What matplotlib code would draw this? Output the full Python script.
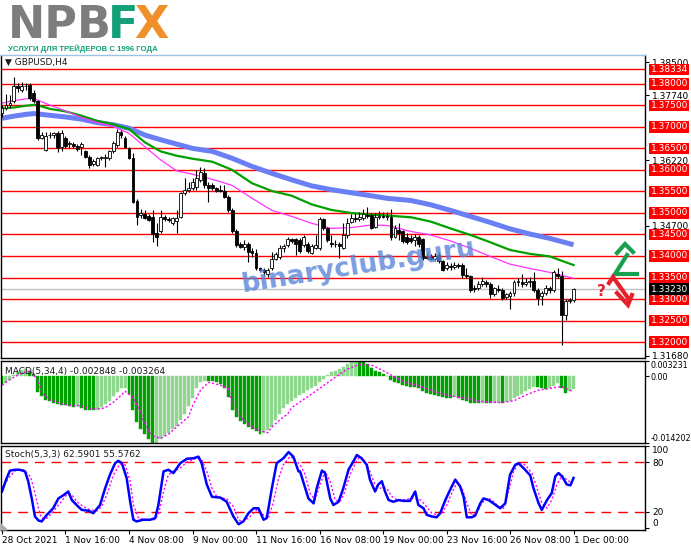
import matplotlib.pyplot as plt
from matplotlib.lines import Line2D
from matplotlib.patches import Polygon
import numpy as np

# GBPUSD H4, 28 Oct 2021 - 1 Dec 2021 (bar index 0..144)
opens = [1.3732, 1.3743, 1.3751, 1.3759, 1.3794, 1.3786, 1.3794, 1.3798, 1.3778, 1.3759,
         1.3675, 1.3646, 1.3680, 1.3681, 1.3685, 1.3654, 1.3674, 1.3660, 1.3660, 1.3656,
         1.3654, 1.3643, 1.3631, 1.3613, 1.3611, 1.3627, 1.3627, 1.3627, 1.3643, 1.3658,
         1.3688, 1.3674, 1.3650, 1.3627, 1.3528, 1.3495, 1.3497, 1.3494, 1.3491, 1.3453,
         1.3457, 1.3491, 1.3486, 1.3476, 1.3481, 1.3491, 1.3546, 1.3553, 1.3557, 1.3561,
         1.3577, 1.3592, 1.3565, 1.3564, 1.3557, 1.3553, 1.3551, 1.3538, 1.3507, 1.3458,
         1.3427, 1.3421, 1.3429, 1.3411, 1.3408, 1.3371, 1.3367, 1.3359, 1.3371, 1.3394,
         1.3398, 1.3418, 1.3425, 1.3439, 1.3439, 1.3437, 1.3425, 1.3429, 1.3408, 1.3419,
         1.3418, 1.3486, 1.3464, 1.3431, 1.3429, 1.3427, 1.3419, 1.3449, 1.3480, 1.3489,
         1.3486, 1.3489, 1.3495, 1.3495, 1.3468, 1.3491, 1.3493, 1.3491, 1.3491, 1.3445,
         1.3461, 1.3457, 1.3445, 1.3442, 1.3437, 1.3445, 1.3439, 1.3398, 1.3398, 1.3394,
         1.3402, 1.3388, 1.3371, 1.3377, 1.3374, 1.3379, 1.3379, 1.3356, 1.3354, 1.3325,
         1.3325, 1.3336, 1.3340, 1.3335, 1.3311, 1.3323, 1.3321, 1.3305, 1.3307, 1.3313,
         1.3339, 1.3340, 1.3334, 1.3339, 1.3342, 1.3321, 1.3307, 1.3313, 1.3325, 1.3321,
         1.3359, 1.3354, 1.3264, 1.3295, 1.3297]
highs = [1.3751, 1.3776, 1.3774, 1.3817, 1.3802, 1.3805, 1.3802, 1.3802, 1.3786, 1.3763,
         1.3689, 1.3689, 1.3688, 1.3689, 1.3691, 1.3693, 1.3678, 1.3667, 1.3664, 1.3660,
         1.3666, 1.3646, 1.3635, 1.3625, 1.3631, 1.3633, 1.3636, 1.3646, 1.3667, 1.3695,
         1.3693, 1.3678, 1.3654, 1.3639, 1.3532, 1.3509, 1.3507, 1.3497, 1.3507, 1.3476,
         1.3507, 1.3495, 1.3491, 1.3491, 1.3507, 1.3549, 1.3581, 1.3573, 1.3582, 1.3600,
         1.3607, 1.3604, 1.3573, 1.3569, 1.3561, 1.3565, 1.3564, 1.3542, 1.3511, 1.3463,
         1.3433, 1.3437, 1.3433, 1.3418, 1.3416, 1.3375, 1.3371, 1.3371, 1.3410, 1.3410,
         1.3425, 1.3429, 1.3445, 1.3442, 1.3442, 1.3441, 1.3449, 1.3433, 1.3429, 1.3449,
         1.3491, 1.3489, 1.3468, 1.3449, 1.3437, 1.3433, 1.3476, 1.3488, 1.3497, 1.3499,
         1.3503, 1.3509, 1.3515, 1.3499, 1.3499, 1.3505, 1.3502, 1.3503, 1.3509, 1.3473,
         1.3476, 1.3461, 1.3453, 1.3449, 1.3450, 1.3449, 1.3442, 1.3406, 1.3404, 1.3406,
         1.3410, 1.3390, 1.3387, 1.3383, 1.3385, 1.3383, 1.3383, 1.3371, 1.3356, 1.3332,
         1.3342, 1.3352, 1.3344, 1.3339, 1.3328, 1.3332, 1.3325, 1.3315, 1.3318, 1.3344,
         1.3348, 1.3359, 1.3348, 1.3352, 1.3363, 1.3325, 1.3318, 1.3332, 1.3331, 1.3367,
         1.3371, 1.3365, 1.3301, 1.3303, 1.3325]
lows = [1.3724, 1.3740, 1.3743, 1.3755, 1.3782, 1.3781, 1.3786, 1.3763, 1.3755, 1.3670,
        1.3672, 1.3643, 1.3674, 1.3674, 1.3641, 1.3643, 1.3652, 1.3650, 1.3650, 1.3643,
        1.3635, 1.3627, 1.3604, 1.3610, 1.3608, 1.3623, 1.3607, 1.3623, 1.3639, 1.3654,
        1.3675, 1.3650, 1.3625, 1.3522, 1.3472, 1.3489, 1.3486, 1.3482, 1.3433, 1.3424,
        1.3453, 1.3482, 1.3480, 1.3472, 1.3453, 1.3488, 1.3542, 1.3549, 1.3553, 1.3553,
        1.3573, 1.3557, 1.3526, 1.3553, 1.3548, 1.3548, 1.3534, 1.3503, 1.3453, 1.3421,
        1.3418, 1.3414, 1.3387, 1.3398, 1.3367, 1.3363, 1.3354, 1.3352, 1.3367, 1.3390,
        1.3394, 1.3410, 1.3421, 1.3431, 1.3402, 1.3408, 1.3421, 1.3406, 1.3404, 1.3416,
        1.3414, 1.3460, 1.3433, 1.3421, 1.3421, 1.3396, 1.3416, 1.3441, 1.3476, 1.3480,
        1.3482, 1.3484, 1.3489, 1.3463, 1.3464, 1.3486, 1.3488, 1.3484, 1.3437, 1.3441,
        1.3437, 1.3431, 1.3429, 1.3431, 1.3424, 1.3421, 1.3390, 1.3393, 1.3390, 1.3388,
        1.3383, 1.3365, 1.3367, 1.3367, 1.3369, 1.3371, 1.3349, 1.3349, 1.3317, 1.3317,
        1.3321, 1.3331, 1.3328, 1.3303, 1.3307, 1.3317, 1.3297, 1.3300, 1.3278, 1.3307,
        1.3331, 1.3328, 1.3331, 1.3328, 1.3317, 1.3287, 1.3287, 1.3309, 1.3315, 1.3317,
        1.3349, 1.3193, 1.3251, 1.3290, 1.3294]
closes = [1.3743, 1.3751, 1.3755, 1.3794, 1.3790, 1.3796, 1.3796, 1.3767, 1.3759, 1.3674,
          1.3681, 1.3678, 1.3681, 1.3685, 1.3652, 1.3685, 1.3656, 1.3662, 1.3656, 1.3649,
          1.3660, 1.3631, 1.3611, 1.3621, 1.3628, 1.3629, 1.3631, 1.3643, 1.3662, 1.3688,
          1.3681, 1.3654, 1.3627, 1.3526, 1.3491, 1.3499, 1.3489, 1.3484, 1.3450, 1.3445,
          1.3491, 1.3486, 1.3484, 1.3488, 1.3488, 1.3546, 1.3553, 1.3559, 1.3573, 1.3581,
          1.3596, 1.3565, 1.3557, 1.3559, 1.3551, 1.3551, 1.3538, 1.3507, 1.3457, 1.3425,
          1.3421, 1.3429, 1.3410, 1.3406, 1.3371, 1.3367, 1.3363, 1.3367, 1.3394, 1.3404,
          1.3419, 1.3424, 1.3439, 1.3436, 1.3429, 1.3411, 1.3445, 1.3411, 1.3424, 1.3425,
          1.3486, 1.3464, 1.3437, 1.3427, 1.3427, 1.3424, 1.3449, 1.3476, 1.3489, 1.3486,
          1.3491, 1.3497, 1.3494, 1.3466, 1.3491, 1.3493, 1.3491, 1.3494, 1.3445, 1.3464,
          1.3453, 1.3435, 1.3433, 1.3435, 1.3445, 1.3427, 1.3396, 1.3396, 1.3394, 1.3401,
          1.3388, 1.3367, 1.3380, 1.3374, 1.3379, 1.3377, 1.3356, 1.3354, 1.3321, 1.3323,
          1.3336, 1.3342, 1.3334, 1.3311, 1.3325, 1.3321, 1.3303, 1.3311, 1.3315, 1.3339,
          1.3342, 1.3334, 1.3339, 1.3342, 1.3321, 1.3303, 1.3313, 1.3326, 1.3321, 1.3362,
          1.3354, 1.3264, 1.3295, 1.3297, 1.3323]

# moving averages (bar index, price)
ma_bars = [0, 3, 6, 8, 9, 12, 16, 20, 24, 28, 32, 36, 40, 44, 48, 53, 58, 63, 68,
           73, 78, 83, 88, 93, 97, 103, 108, 113, 118, 123, 128, 133, 138, 144]
ma_fast = [1.3755, 1.3761, 1.3765, 1.3767, 1.3762, 1.3751, 1.3737, 1.3722, 1.3710,
           1.3701, 1.3685, 1.3654, 1.3623, 1.3598, 1.3590, 1.3578, 1.3564, 1.3534,
           1.3506, 1.3492, 1.3476, 1.3464, 1.3466, 1.3472, 1.3471, 1.3457, 1.3449,
           1.3435, 1.3418, 1.3399, 1.3381, 1.3371, 1.3362, 1.3348]
ma_mid = [1.3743, 1.3745, 1.3749, 1.3751, 1.3750, 1.3742, 1.3736, 1.3726, 1.3714,
          1.3706, 1.3695, 1.3664, 1.3643, 1.3633, 1.3626, 1.3619, 1.3600, 1.3569,
          1.3551, 1.3540, 1.3520, 1.3507, 1.3500, 1.3496, 1.3494, 1.3490, 1.3480,
          1.3464, 1.3449, 1.3432, 1.3414, 1.3405, 1.3399, 1.3379]
ma_slow = [1.3720, 1.3725, 1.3729, 1.3731, 1.3730, 1.3727, 1.3723, 1.3718, 1.3710,
           1.3705, 1.3697, 1.3681, 1.3670, 1.3660, 1.3650, 1.3643, 1.3627, 1.3608,
           1.3592, 1.3577, 1.3563, 1.3554, 1.3547, 1.3540, 1.3534, 1.3529, 1.3519,
           1.3506, 1.3492, 1.3478, 1.3463, 1.3451, 1.3441, 1.3426]

macd_hist = [-0.0018, -0.0015, -0.0008, 0.0002, 0.0010, 0.0014, 0.0016, 0.0012, 0.0004, -0.0034,
             -0.0043, -0.0050, -0.0053, -0.0056, -0.0060, -0.0062, -0.0062, -0.0063, -0.0065, -0.0063,
             -0.0067, -0.0071, -0.0072, -0.0072, -0.0071, -0.0065, -0.0060, -0.0052, -0.0043, -0.0034,
             -0.0026, -0.0025, -0.0037, -0.0071, -0.0097, -0.0112, -0.0123, -0.0134, -0.0142, -0.0141,
             -0.0134, -0.0127, -0.0120, -0.0112, -0.0105, -0.0093, -0.0080, -0.0063, -0.0047, -0.0026,
             -0.0013, -0.0010, -0.0010, -0.0011, -0.0013, -0.0017, -0.0026, -0.0045, -0.0071, -0.0086,
             -0.0096, -0.0102, -0.0107, -0.0112, -0.0116, -0.0122, -0.0120, -0.0114, -0.0107, -0.0093,
             -0.0080, -0.0067, -0.0060, -0.0052, -0.0047, -0.0040, -0.0035, -0.0030, -0.0025, -0.0020,
             -0.0012, -0.0005, 0.0003, 0.0008, 0.0012, 0.0016, 0.0020, 0.0026, 0.0030, 0.0032,
             0.0032, 0.0030, 0.0025, 0.0018, 0.0012, 0.0008, 0.0004, 0.0000, -0.0008, -0.0012,
             -0.0015, -0.0018, -0.0020, -0.0022, -0.0022, -0.0025, -0.0032, -0.0036, -0.0038, -0.0040,
             -0.0042, -0.0045, -0.0046, -0.0046, -0.0045, -0.0046, -0.0050, -0.0052, -0.0056, -0.0058,
             -0.0058, -0.0056, -0.0056, -0.0058, -0.0057, -0.0056, -0.0057, -0.0055, -0.0052, -0.0047,
             -0.0042, -0.0037, -0.0032, -0.0028, -0.0024, -0.0024, -0.0026, -0.0027, -0.0025, -0.0020,
             -0.0015, -0.0025, -0.0035, -0.0032, -0.0028]
sig_bars = [0, 2, 5, 7, 9, 10, 12, 15, 17, 20, 22, 25, 26, 28, 30, 31, 33, 35, 36, 38, 40,
            42, 44, 47, 48, 50, 52, 53, 55, 57, 58, 60, 62, 63, 65, 67, 68, 70, 72, 73, 75,
            78, 81, 84, 87, 90, 93, 96, 99, 102, 105, 108, 111, 114, 117, 120, 123, 126,
            129, 132, 135, 138, 141, 144]
sig_vals = [-0.0019, -0.0007, 0.0007, 0.0011, -0.0007, -0.0034, -0.0050, -0.0058, -0.0062,
            -0.0063, -0.0069, -0.0069, -0.0067, -0.0056, -0.0041, -0.0032, -0.0045, -0.0078,
            -0.0105, -0.0127, -0.0132, -0.0123, -0.0108, -0.0086, -0.0063, -0.0030, -0.0013,
            -0.0015, -0.0019, -0.0026, -0.0056, -0.0086, -0.0101, -0.0108, -0.0116, -0.0120,
            -0.0108, -0.0093, -0.0080, -0.0067, -0.0055, -0.0038, -0.0020, -0.0002, 0.0015,
            0.0025, 0.0024, 0.0012, -0.0002, -0.0014, -0.0020, -0.0030, -0.0038, -0.0043,
            -0.0047, -0.0053, -0.0055, -0.0056, -0.0052, -0.0040, -0.0030, -0.0026, -0.0022,
            -0.0033]

st_bars = [0, 0.3, 1.2, 2.0, 3.3, 4.5, 5.8, 6.6, 7.5, 8.3, 9.2, 10.0, 11.3, 12.9, 14.2, 15.5,
           16.7, 17.6, 18.8, 20.1, 21.8, 23.0, 24.7, 26.0, 27.2, 28.5, 29.3, 30.2, 31.4, 32.3,
           33.1, 33.9, 35.6, 37.3, 38.6, 39.4, 40.7, 41.9, 43.2, 44.9, 46.6, 48.2, 49.5, 50.3,
           51.6, 52.9, 55.0, 56.6, 58.3, 59.6, 60.8, 62.1, 63.4, 64.6, 65.9, 66.7, 68.0, 69.2,
           70.9, 72.2, 73.4, 74.7, 75.1, 76.4, 77.2, 78.5, 79.3, 80.6, 81.4, 82.7, 83.5, 84.8,
           86.0, 87.3, 88.5, 89.4, 90.6, 91.9, 92.7, 94.0, 94.8, 95.7, 96.5, 97.4, 98.6, 99.9,
           101.1, 102.8, 104.1, 104.9, 106.2, 107.0, 108.3, 109.5, 110.4, 111.7, 112.9, 114.2,
           115.4, 116.3, 117.1, 118.4, 119.2, 120.5, 121.3, 122.6, 123.8, 125.5, 126.8, 128.0,
           129.3, 130.1, 131.4, 133.1, 133.9, 135.2, 136.0, 137.3, 138.5, 139.4, 140.2, 141.1,
           142.3, 143.2, 144.0]
st_main = [44.5, 48.6, 61, 70, 71, 71, 69, 57, 36, 14, 9, 8, 16, 24, 36, 40,
           44.5, 34, 28, 22, 21, 18, 28, 48.6, 65, 79, 82, 79, 61, 32,
           10, 8, 10, 10, 12, 28, 69, 71, 67, 79, 84.5, 85, 87, 79,
           53, 38, 37, 32, 14, 4.5, 8, 18, 24, 24, 10, 12, 48.6, 79,
           85, 92.6, 87, 69, 69, 48.6, 36, 30, 48.6, 70, 67, 36, 28, 32,
           48.6, 71, 81, 89, 85, 77, 59, 44.5, 53, 57, 44.5, 34, 32, 34,
           33, 33, 44.5, 28, 24, 16, 14, 13, 18, 34, 46.5, 59,
           51, 38, 13, 13, 15, 30, 36, 34, 30, 24, 30, 65,
           77, 79, 73, 64, 48.6, 30, 22, 34, 42.5, 63, 67, 63,
           53, 52, 61]
sts_bars = [0, 2.0, 3.3, 5.4, 7.1, 7.9, 9.2, 10.0, 11.3, 12.9, 14.6, 16.3, 17.6, 18.8, 20.5,
            22.2, 23.9, 25.1, 26.4, 28.1, 29.7, 31.0, 32.3, 33.1, 34.4, 36.5, 38.2, 39.4, 40.7,
            41.9, 43.2, 44.9, 46.6, 49.1, 50.3, 51.6, 52.9, 54.1, 56.6, 58.3, 59.6, 60.8, 62.5,
            64.2, 65.9, 67.1, 68.4, 69.7, 70.9, 72.6, 74.3, 75.1, 76.4, 77.6, 78.9, 80.1, 81.4,
            82.7, 83.9, 85.2, 86.4, 87.7, 89.0, 90.2, 91.5, 92.7, 94.0, 95.3, 96.9, 98.2, 99.5,
            101.1, 103.7, 105.4, 106.6, 108.3, 109.6, 110.8, 112.1, 113.3, 114.6, 115.9, 117.1,
            118.4, 119.6, 120.9, 122.2, 123.4, 125.1, 126.4, 127.6, 128.9, 130.1, 131.8, 133.5,
            134.8, 136.0, 137.3, 138.5, 139.8, 141.1, 142.3, 143.6]
st_signal = [48.6, 62.9, 69.8, 71, 62.9, 50.6, 24, 11.8, 11.8, 20, 30.2, 40.4, 40.4, 32.2, 26.1,
             22, 20.8, 26.1, 40.4, 64.9, 78, 77.1, 56.7, 28.2, 11.8, 9.8, 9.8, 15.9, 44.5,
             64.9, 69, 73.1, 80.4, 85.3, 83.3, 69, 48.6, 38.4, 35.5, 26.1, 9.8, 7.8, 13.9,
             22, 15.9, 11.8, 32.2, 60.8, 77.1, 87.3, 81.2, 77.1, 64.9, 42.4, 34.3, 52.7, 69,
             56.7, 34.3, 32.2, 44.5, 64.9, 79.2, 87.3, 81.2, 69, 52.7, 48.6, 48.6, 38.4, 34.3,
             34.3, 36.3, 34.3, 28.2, 18, 15.9, 18, 28.2, 42.4, 54.7, 48.6, 30.2,
             15.1, 18, 30.2, 36.3, 34.3, 26.1, 24.1, 44.5, 69, 79.2, 77.1, 66.9,
             48.6, 30.2, 24.1, 34.3, 52.7, 64.1, 58.8, 54.7]

levels = [1.38334, 1.38, 1.375, 1.37, 1.365, 1.36, 1.355, 1.35, 1.345, 1.34,
          1.335, 1.33, 1.325, 1.32]
price_ticks = [1.385, 1.3774, 1.3622, 1.347, 1.3168]
last_price = 1.3323
date_bars = [0, 16, 32, 48, 64, 80, 96, 112, 128, 144]
date_labels = ["28 Oct 2021", "1 Nov 16:00", "4 Nov 08:00", "9 Nov 00:00", "11 Nov 16:00",
               "16 Nov 08:00", "19 Nov 00:00", "23 Nov 16:00", "26 Nov 08:00", "1 Dec 00:00"]

W, H = 691, 549
fig = plt.figure(figsize=(W / 100, H / 100), dpi=100)


def rect(x0, y0, x1, y1):
    return [x0 / W, 1 - y1 / H, (x1 - x0) / W, (y1 - y0) / H]


def fx(x):
    return x / W


def fy(y):
    return 1 - y / H


ax = fig.add_axes(rect(1, 55, 645, 358))
axm = fig.add_axes(rect(1, 361, 645, 443), sharex=ax)
axs = fig.add_axes(rect(1, 446, 645, 530), sharex=ax)
FS = 6.5

for a in (ax, axm, axs):
    a.set_facecolor('white')
    for s in a.spines.values():
        s.set_color('black')
        s.set_linewidth(1)
    a.yaxis.tick_right()
    a.tick_params(axis='y', labelsize=FS, length=3, pad=2, direction='out')
    a.tick_params(axis='x', labelsize=FS, length=3, pad=1.5)
ax.spines['top'].set_color('#9cc3e5')
ax.set_xlim(-0.25, 162)

# price panel
bars = np.arange(len(closes))
o, h, l, c = (np.array(v) for v in (opens, highs, lows, closes))
for lv in levels:
    ax.axhline(lv, color='#ff0000', lw=1, zorder=1)
ax.axhline(last_price, color='#c0c0c0', lw=1, zorder=1)
ax.plot(ma_bars, ma_slow, color='#6b7ff5', lw=3.6, zorder=2, solid_capstyle='butt')
ax.plot(ma_bars, ma_mid, color='#00a000', lw=1.6, zorder=2)
ax.plot(ma_bars, ma_fast, color='#ff33ff', lw=0.9, zorder=2)
ax.vlines(bars, l, h, color='black', lw=0.8, zorder=3)
up = c >= o
ax.bar(bars, np.maximum(np.abs(c - o), 0.00008), bottom=np.minimum(o, c), width=0.72,
       color=np.where(up, 'white', 'black'), edgecolor='black', linewidth=0.6, zorder=4)
ax.set_ylim(1.3163, 1.3867)
ax.set_yticks(price_ticks)
ax.set_yticklabels([f"{v:.5f}" for v in price_ticks])
ytr = ax.get_yaxis_transform()
for lv in levels:
    ax.text(1.0085, lv, f"{lv:.5f}", transform=ytr, fontsize=FS, color='white', va='center',
            ha='left', clip_on=False, zorder=10,
            bbox=dict(boxstyle='square,pad=0.15', fc='#ff0000', ec='none'))
ax.text(1.0085, last_price, f"{last_price:.5f}", transform=ytr, fontsize=FS, color='white',
        va='center', ha='left', clip_on=False, zorder=11,
        bbox=dict(boxstyle='square,pad=0.15', fc='black', ec='none'))
ax.tick_params(axis='x', bottom=False, labelbottom=False)

# MACD panel
hist_col = ['#00a000' if i == 0 or macd_hist[i] <= macd_hist[i - 1] else '#8fd68f'
            for i in range(len(macd_hist))]
axm.bar(bars, macd_hist, width=0.75, color=hist_col, edgecolor=hist_col, linewidth=0.3)
axm.plot(sig_bars, sig_vals, color='#ff00ff', lw=1, ls=(0, (1.5, 1.5)))
axm.set_ylim(-0.014202, 0.003231)
axm.set_yticks([0.003231, 0.0, -0.014202])
axm.set_yticklabels(['0.003231', '0.00', '-0.014202'])
axm.tick_params(axis='y', labelsize=5.8, pad=1)
mlab = axm.get_yticklabels()
mlab[0].set_va('top')
mlab[2].set_va('bottom')
axm.tick_params(axis='x', bottom=False, labelbottom=False)
axm.text(0.006, 0.93, "MACD(5,34,4) -0.002848 -0.003264", transform=axm.transAxes,
         fontsize=FS, va='top', ha='left', color='#1a1a1a')

# Stochastic panel
axs.axhline(80, color='#ff0000', lw=1, ls=(0, (7, 5)))
axs.axhline(20, color='#ff0000', lw=1, ls=(0, (7, 5)))
axs.plot(sts_bars, st_signal, color='#ff00ff', lw=1, ls=(0, (1.5, 1.5)))
axs.plot(st_bars, st_main, color='#0000ff', lw=1.8)
axs.set_ylim(-2.5, 100)
axs.set_yticks([100, 80, 20, 0])
axs.set_yticklabels(['100', '80', '20', '0'])
slab = axs.get_yticklabels()
slab[0].set_va('top')
slab[3].set_va('bottom')
axs.text(0.006, 0.95, "Stoch(5,3,3) 62.5901 55.5762", transform=axs.transAxes,
         fontsize=FS, va='top', ha='left', color='#1a1a1a')
axs.set_xticks(date_bars)
axs.set_xticklabels(date_labels, ha='left')
fig.add_artist(Polygon([(fx(1), fy(530)), (fx(1), fy(524)), (fx(7), fy(530))],
                       closed=True, color='#a8a8a8'))

# header / logo
fig.text(fx(8), fy(38), "NPB", fontsize=32, fontweight='heavy', color='#7d7d7d')
fig.text(fx(108), fy(38), "F", fontsize=32, fontweight='heavy', color='#13a078')
fig.text(fx(134), fy(38), "X", fontsize=32, fontweight='heavy', color='#f0902a')
fig.text(fx(8), fy(51), "УСЛУГИ ДЛЯ ТРЕЙДЕРОВ С 1996 ГОДА", fontsize=5.6, fontweight='bold',
         color='#13a078', family='Liberation Sans')
fig.text(fx(5), fy(62), "▼ GBPUSD,H4", fontsize=FS, va='center', color='#1a1a1a')

# watermark
fig.text(fx(243), fy(292), "binaryclub.guru", fontsize=19, fontweight='bold',
         color='#5a84d8', alpha=0.8, rotation=9, rotation_mode='anchor', zorder=20)

# scenario arrows
green = '#17a050'
red = '#e8202a'
for xs, ys, col in [
    ([637, 615, 627], [274, 274, 255], green),
    ([617, 625, 633], [253, 244, 252], green),
    ([609, 613, 628], [283, 277, 298], red),
    ([617, 628, 632], [293, 305, 295], red),
]:
    fig.add_artist(Line2D([fx(x) for x in xs], [fy(y) for y in ys], color=col, lw=3,
                          solid_joinstyle='miter'))
fig.text(fx(597), fy(296), "?", fontsize=11, fontweight='bold', color=red)

fig.savefig('out.png', dpi=100)
